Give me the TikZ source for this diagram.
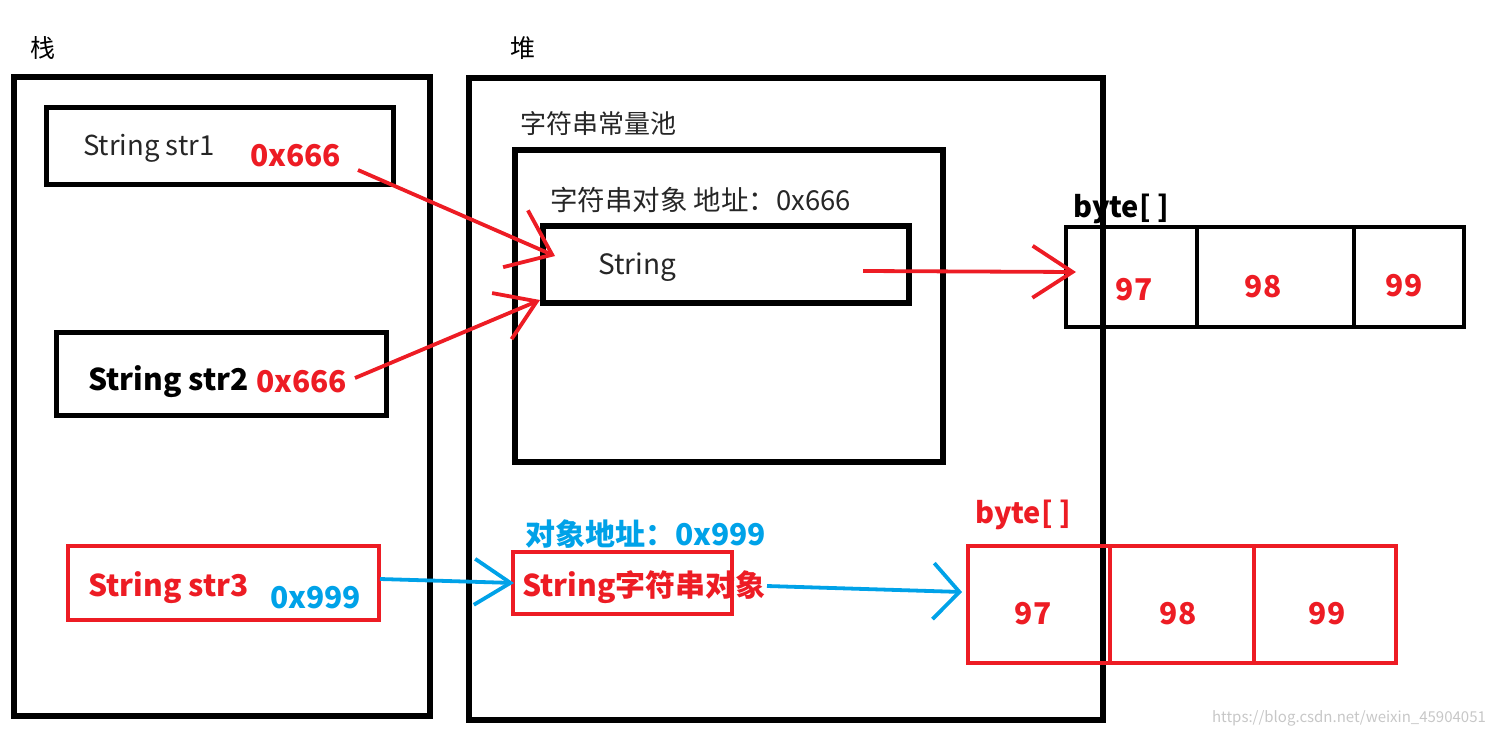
\documentclass[tikz,border=0pt]{standalone}
\usepackage{fontspec}
\setmainfont{Noto Sans CJK SC}
\usetikzlibrary{arrows.meta}
\definecolor{pred}{HTML}{ED1C24}
\definecolor{pblue}{HTML}{00A2E8}
\begin{document}
\begin{tikzpicture}[x=1pt,y=-1pt,
  box/.style={draw=black, line width=#1, inner sep=0pt, outer sep=0pt, anchor=north west},
  box/.default=6pt,
  rbox/.style={draw=pred, line width=4pt, inner sep=0pt, outer sep=0pt, anchor=north west},
  txt/.style={inner sep=0pt, anchor=west, font=\fontsize{#1}{#1}\selectfont},
  btxt/.style={inner sep=0pt, anchor=west, font=\fontsize{#1}{#1}\selectfont\bfseries},
  num/.style={inner sep=0pt, text=pred, font=\fontsize{30}{30}\selectfont\bfseries},
  rarrow/.style={draw=pred, line width=3.8pt},
  barrow/.style={draw=pblue, line width=3.8pt}
]
\useasboundingbox (0,0) rectangle (1492,736);
% titles
\node[txt=25] (zhan) at (30,48) {栈};
\node[txt=25] (dui) at (510,48) {堆};
% outer regions
\node[box, minimum width=416pt, minimum height=639pt] (stack) at (14,77) {};
\node[box, minimum width=634pt, minimum height=642pt] (heap) at (469,78) {};
% stack entries
\node[box=5pt, minimum width=347pt, minimum height=77pt] (s1) at (46,107) {};
\node[txt=27.5, text=black!85] (s1t) at (83,148) {String str1};
\node[btxt=30, text=pred] (s1a) at (250,156) {0x666};
\node[box=5pt, minimum width=330pt, minimum height=83pt] (s2) at (56,332) {};
\node[btxt=30] (s2t) at (88,382) {String str2};
\node[btxt=30, text=pred] (s2a) at (256,382) {0x666};
\node[rbox, minimum width=311pt, minimum height=74pt] (s3) at (68,546) {};
\node[btxt=30, text=pred] (s3t) at (88,588) {String str3};
\node[btxt=30, text=pblue] (s3a) at (270,598) {0x999};
% constant pool
\node[txt=26, text=black!85] (poolt) at (520,124) {字符串常量池};
\node[box, minimum width=428pt, minimum height=312pt] (pool) at (515,150) {};
\node[txt=27.5, text=black!85] (objt) at (550,200) {字符串对象 地址：0x666};
\node[box, minimum width=366pt, minimum height=77pt] (strobj) at (543,226) {};
\node[txt=28, text=black!85] (strt) at (598,267) {String};
% top byte array
\node[box=4pt, minimum width=131pt, minimum height=100pt] (c1) at (1066,227) {};
\node[box=4pt, minimum width=157pt, minimum height=100pt] (c2) at (1197,227) {};
\node[box=4pt, minimum width=110pt, minimum height=100pt] (c3) at (1354,227) {};
\node[btxt=29] (bytet) at (1073,209) {byte[ ]};
\node[num] (n1) at (1134,290) {97};
\node[num] (n2) at (1263,287) {98};
\node[num] (n3) at (1404,286) {99};
% heap object
\node[btxt=30, text=pblue] (addr) at (525,534) {对象地址：0x999};
\node[rbox, minimum width=219pt, minimum height=62pt] (robj) at (513,552) {};
\node[btxt=30, text=pred] (robjt) at (522,587) {String字符串对象};
% bottom byte array
\node[btxt=29, text=pred] (byteb) at (975,515) {byte[ ]};
\node[rbox, minimum width=142pt, minimum height=117pt] (d1) at (968,546) {};
\node[rbox, minimum width=144pt, minimum height=117pt] (d2) at (1110,546) {};
\node[rbox, minimum width=142pt, minimum height=117pt] (d3) at (1254,546) {};
\node[num] (m1) at (1033,614) {97};
\node[num] (m2) at (1178,614) {98};
\node[num] (m3) at (1327,614) {99};
% watermark
\node[inner sep=0pt, text=black!22, font=\fontsize{15}{15}\selectfont] (wm) at (1349,718) {https://blog.csdn.net/weixin\_45904051};
% arrow ends
\coordinate (t1) at (358,170);
\coordinate (h1) at (555,256);
\coordinate (t2) at (355,378);
\coordinate (h2) at (540,300);
\coordinate (t3) at (863,271);
\coordinate (h3) at (1076,272);
\coordinate (t4) at (380,579);
\coordinate (h4) at (514,583);
\coordinate (t5) at (767,586);
\coordinate (h5) at (962,592);
% arrows
\draw[rarrow, -{Straight Barb[length=40pt,width=62pt]}] (t1) -- (h1);
\draw[rarrow, -{Straight Barb[length=38pt,width=50pt]}] (t2) -- (h2);
\draw[rarrow, -{Straight Barb[length=40pt,width=52pt]}] (t3) -- (h3);
\draw[barrow, -{Straight Barb[length=36pt,width=46pt]}] (t4) -- (h4);
\draw[barrow, -{Straight Barb[length=26pt,width=56pt]}] (t5) -- (h5);
\end{tikzpicture}
\end{document}
